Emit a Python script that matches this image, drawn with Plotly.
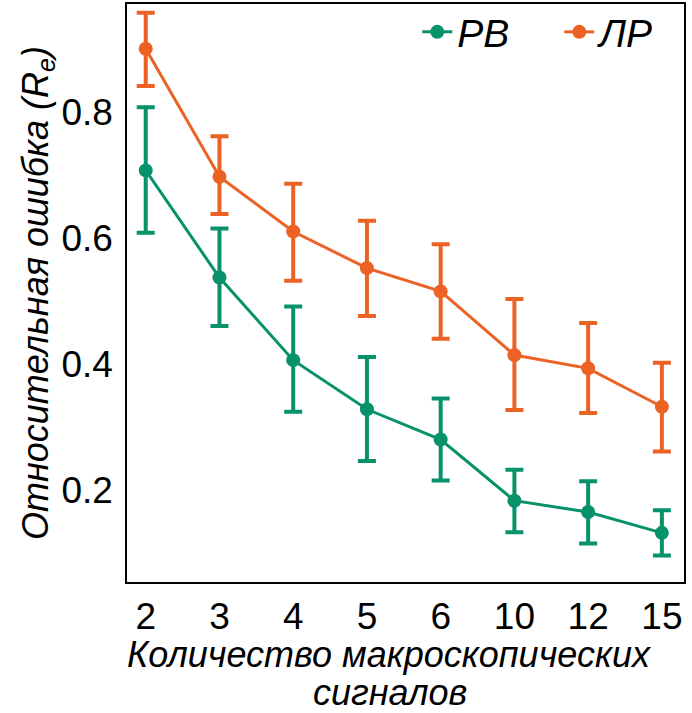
import plotly.graph_objects as go

categories = ["2", "3", "4", "5", "6", "10", "12", "15"]

rv_mean = [0.707, 0.537, 0.406, 0.328, 0.280, 0.183, 0.165, 0.132]
rv_upper = [0.807, 0.615, 0.491, 0.411, 0.345, 0.232, 0.214, 0.168]
rv_lower = [0.608, 0.460, 0.324, 0.246, 0.215, 0.133, 0.115, 0.096]

lr_mean = [0.900, 0.697, 0.610, 0.552, 0.515, 0.414, 0.393, 0.332]
lr_upper = [0.957, 0.761, 0.686, 0.627, 0.590, 0.503, 0.465, 0.402]
lr_lower = [0.841, 0.638, 0.532, 0.476, 0.440, 0.327, 0.322, 0.261]

x_title_lines = ["Количество макроскопических", "сигналов"]
y_title = "Относительная ошибка (R<sub>e</sub>)"

GREEN = "#07926B"
ORANGE = "#EC6124"
FONT = "Liberation Sans"


def trace(name, mean, upper, lower, color):
    return go.Scatter(
        x=categories, y=mean, name=name, mode="lines+markers",
        line=dict(color=color, width=3),
        marker=dict(color=color, size=14),
        error_y=dict(
            type="data", symmetric=False,
            array=[u - m for u, m in zip(upper, mean)],
            arrayminus=[m - l for m, l in zip(mean, lower)],
            color=color, thickness=4, width=9,
        ),
    )


fig = go.Figure([
    trace("РВ", rv_mean, rv_upper, rv_lower, GREEN),
    trace("ЛР", lr_mean, lr_upper, lr_lower, ORANGE),
])

fig.update_layout(
    width=692, height=713,
    margin=dict(l=127, r=8, t=4, b=131, autoexpand=False),
    paper_bgcolor="white", plot_bgcolor="white",
    font=dict(family=FONT, size=37, color="black"),
    showlegend=True,
    legend=dict(
        orientation="h", xref="container", yref="container",
        x=0.603, xanchor="left", y=1.0, yanchor="top",
        font=dict(size=39, family=FONT, style="italic"),
        bgcolor="rgba(0,0,0,0)", itemwidth=30, tracegroupgap=0,
        entrywidth=97,
    ),
    xaxis=dict(
        type="category", range=[-0.254, 7.30],
        showline=True, linecolor="black", linewidth=1.5, mirror=True,
        showgrid=False, zeroline=False, ticks="outside", ticklen=1,
        tickcolor="rgba(0,0,0,0)", tickfont=dict(size=37),
    ),
    yaxis=dict(
        range=[0.054, 0.971], tickvals=[0.2, 0.4, 0.6, 0.8],
        ticktext=["0.2", "0.4", "0.6", "0.8"],
        showline=True, linecolor="black", linewidth=1.5, mirror=True,
        showgrid=False, zeroline=False, ticks="outside", ticklen=5,
        tickcolor="rgba(0,0,0,0)", tickfont=dict(size=37),
        title=dict(text=y_title,
                   font=dict(size=36, style="italic"), standoff=2),
    ),
    annotations=[
        dict(text=x_title_lines[0], xref="paper", yref="paper",
             x=0.472, y=-0.125, xanchor="center", yanchor="middle",
             showarrow=False, font=dict(size=36, style="italic")),
        dict(text=x_title_lines[1], xref="paper", yref="paper",
             x=0.472, y=-0.192, xanchor="center", yanchor="middle",
             showarrow=False, font=dict(size=36, style="italic")),
    ],
)

fig.write_html("out.html")
